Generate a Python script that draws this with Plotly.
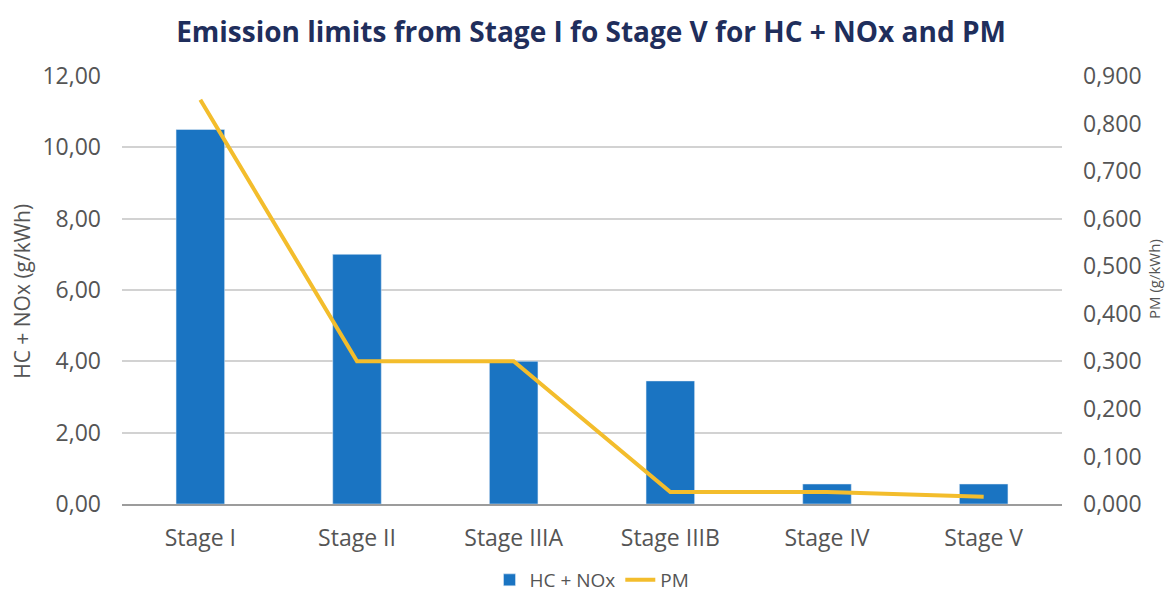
import plotly.graph_objects as go

stages = ["Stage I", "Stage II", "Stage IIIA", "Stage IIIB", "Stage IV", "Stage V"]
hc_nox = [10.5, 7.0, 4.0, 3.45, 0.56, 0.56]
pm = [0.85, 0.30, 0.30, 0.025, 0.025, 0.015]
left_ticks = [0, 2, 4, 6, 8, 10, 12]
right_ticks = [0, 0.1, 0.2, 0.3, 0.4, 0.5, 0.6, 0.7, 0.8, 0.9]

FONT = "Open Sans, sans-serif"
GREY = "#555555"
tick_font = dict(family=FONT, size=23, color=GREY)

fig = go.Figure()
fig.add_trace(go.Bar(x=stages, y=hc_nox, name="HC + NOx", marker_color="#1a74c2",
                     yaxis="y"))
fig.add_trace(go.Scatter(x=stages, y=pm, name="PM", mode="lines",
                         line=dict(color="#f3bd2c", width=4), yaxis="y2"))

# page body has an 8px margin: figure is sized/offset to compensate
fig.update_layout(
    width=1166, height=586,
    paper_bgcolor="white", plot_bgcolor="white",
    separators=",.",
    margin=dict(l=114, r=112, t=68, b=90, autoexpand=False),
    bargap=0.69,
    title=dict(text="<b>Emission limits from Stage I fo Stage V for HC + NOx and PM</b>",
               x=0.5, xanchor="center", y=0.959, yanchor="middle",
               font=dict(family=FONT, size=28, color="#1f2e5c")),
    xaxis=dict(showgrid=False, showline=True, linecolor="#9c9c9c", linewidth=2,
               tickfont=tick_font, ticks="", ticklabelstandoff=12, automargin=False),
    yaxis=dict(range=[0, 12], tickvals=left_ticks, tickformat=".2f",
               showgrid=True, gridcolor="#d2d2d2", gridwidth=1.5, zeroline=False,
               tickfont=tick_font, ticklabelstandoff=20, automargin=False),
    yaxis2=dict(range=[0, 0.9], tickvals=right_ticks, tickformat=".3f",
                overlaying="y", side="right", showgrid=False, zeroline=False,
                tickfont=tick_font, ticklabelstandoff=20, automargin=False),
    legend=dict(orientation="h", x=0.5, xanchor="center", y=-0.1776, yanchor="middle",
                font=dict(family=FONT, size=19, color=GREY)),
    annotations=[
        dict(text="HC + NOx (g/kWh)", xref="paper", yref="paper", x=-0.1064, y=0.498,
             xanchor="center", yanchor="middle", textangle=-90, showarrow=False,
             font=dict(family=FONT, size=21, color=GREY)),
        dict(text="PM (g/kWh)", xref="paper", yref="paper", x=1.098, y=0.526,
             xanchor="center", yanchor="middle", textangle=-90, showarrow=False,
             font=dict(family=FONT, size=15, color=GREY)),
    ],
)

fig.write_html("out.html")
